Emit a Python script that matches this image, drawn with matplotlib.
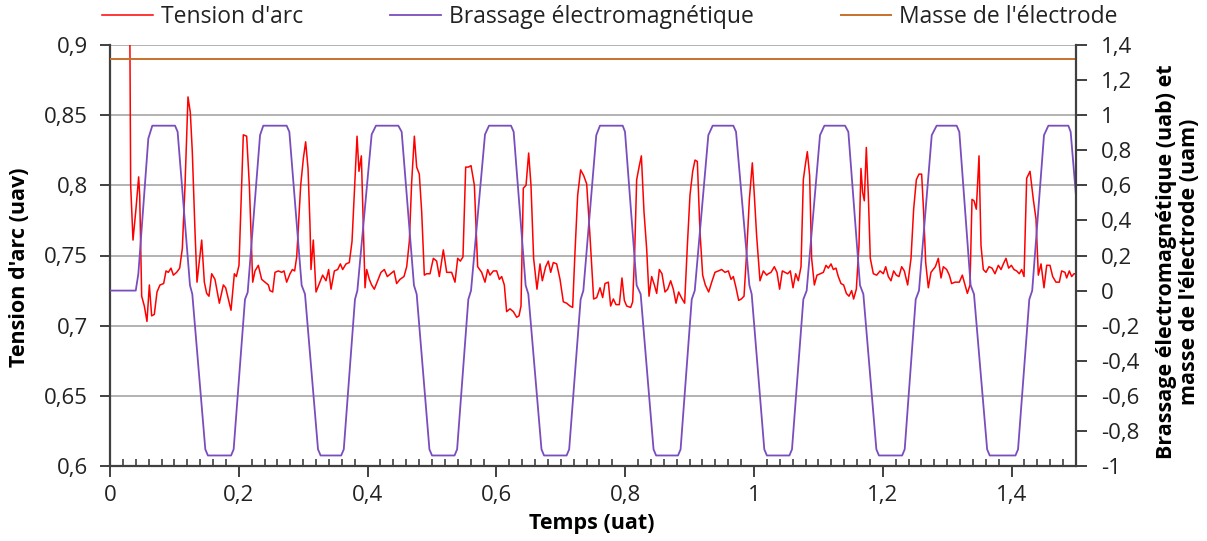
import matplotlib
matplotlib.use('Agg')
import matplotlib.pyplot as plt
from matplotlib.ticker import MultipleLocator, FuncFormatter

# Tension d'arc (axe gauche)
arc_t = [0.0300, 0.0321, 0.0357, 0.0399, 0.0445, 0.0461, 0.0492, 0.0533, 0.0574, 0.0611,
         0.0647, 0.0688, 0.0730, 0.0776, 0.0833, 0.0870, 0.0906, 0.0947, 0.0984, 0.1035,
         0.1082, 0.1123, 0.1165, 0.1211, 0.1247, 0.1278, 0.1320, 0.1351, 0.1424, 0.1465,
         0.1501, 0.1537, 0.1579, 0.1630, 0.1698, 0.1760, 0.1796, 0.1879, 0.1931, 0.1962,
         0.2003, 0.2070, 0.2122, 0.2164, 0.2216, 0.2252, 0.2303, 0.2355, 0.2459, 0.2484,
         0.2526, 0.2562, 0.2614, 0.2666, 0.2702, 0.2743, 0.2795, 0.2832, 0.2867, 0.2899,
         0.2961, 0.3002, 0.3038, 0.3075, 0.3106, 0.3121, 0.3157, 0.3199, 0.3251, 0.3302,
         0.3354, 0.3395, 0.3432, 0.3484, 0.3535, 0.3577, 0.3613, 0.3665, 0.3716, 0.3758,
         0.3799, 0.3836, 0.3866, 0.3903, 0.3934, 0.3960, 0.3986, 0.4027, 0.4063, 0.4104,
         0.4156, 0.4208, 0.4260, 0.4306, 0.4358, 0.4410, 0.4451, 0.4503, 0.4565, 0.4607,
         0.4648, 0.4684, 0.4726, 0.4762, 0.4803, 0.4840, 0.4881, 0.4917, 0.4969, 0.5021,
         0.5072, 0.5114, 0.5176, 0.5228, 0.5305, 0.5357, 0.5399, 0.5440, 0.5481, 0.5523,
         0.5564, 0.5606, 0.5658, 0.5709, 0.5771, 0.5823, 0.5865, 0.5901, 0.5953, 0.6004,
         0.6046, 0.6082, 0.6123, 0.6159, 0.6211, 0.6263, 0.6315, 0.6351, 0.6382, 0.6418,
         0.6460, 0.6501, 0.6537, 0.6578, 0.6630, 0.6677, 0.6713, 0.6765, 0.6806, 0.6843,
         0.6884, 0.6936, 0.6988, 0.7039, 0.7091, 0.7143, 0.7184, 0.7220, 0.7262, 0.7308,
         0.7355, 0.7402, 0.7453, 0.7510, 0.7557, 0.7609, 0.7650, 0.7686, 0.7738, 0.7774,
         0.7816, 0.7857, 0.7909, 0.7950, 0.7987, 0.8023, 0.8085, 0.8116, 0.8147, 0.8178,
         0.8215, 0.8251, 0.8292, 0.8333, 0.8370, 0.8411, 0.8453, 0.8489, 0.8530, 0.8571,
         0.8618, 0.8660, 0.8706, 0.8747, 0.8789, 0.8830, 0.8872, 0.8923, 0.8965, 0.9006,
         0.9048, 0.9084, 0.9120, 0.9161, 0.9203, 0.9244, 0.9296, 0.9343, 0.9394, 0.9446,
         0.9498, 0.9550, 0.9602, 0.9643, 0.9679, 0.9721, 0.9762, 0.9803, 0.9845, 0.9886,
         0.9928, 0.9974, 1.0005, 1.0041, 1.0093, 1.0145, 1.0197, 1.0222, 1.0264, 1.0316,
         1.0357, 1.0398, 1.0440, 1.0481, 1.0523, 1.0564, 1.0606, 1.0647, 1.0688, 1.0730,
         1.0766, 1.0792, 1.0828, 1.0864, 1.0895, 1.0937, 1.0978, 1.1030, 1.1077, 1.1118,
         1.1154, 1.1196, 1.1232, 1.1273, 1.1309, 1.1351, 1.1392, 1.1434, 1.1475, 1.1516,
         1.1547, 1.1589, 1.1630, 1.1661, 1.1687, 1.1713, 1.1744, 1.1775, 1.1806, 1.1853,
         1.1905, 1.1957, 1.2008, 1.2045, 1.2086, 1.2127, 1.2169, 1.2210, 1.2251, 1.2293,
         1.2334, 1.2386, 1.2438, 1.2479, 1.2521, 1.2562, 1.2603, 1.2634, 1.2666, 1.2707,
         1.2748, 1.2816, 1.2862, 1.2904, 1.2940, 1.2992, 1.3033, 1.3069, 1.3121, 1.3188,
         1.3235, 1.3271, 1.3313, 1.3354, 1.3385, 1.3416, 1.3452, 1.3494, 1.3525, 1.3561,
         1.3602, 1.3649, 1.3696, 1.3742, 1.3794, 1.3836, 1.3872, 1.3913, 1.3954, 1.3996,
         1.4037, 1.4079, 1.4120, 1.4156, 1.4193, 1.4234, 1.4286, 1.4337, 1.4379, 1.4415,
         1.4457, 1.4503, 1.4545, 1.4596, 1.4638, 1.4689, 1.4741, 1.4777, 1.4829, 1.4855,
         1.4896, 1.4933, 1.4969, 1.5010]
arc_v = [0.980, 0.800, 0.761, 0.781, 0.806, 0.793, 0.721, 0.714, 0.703, 0.729,
         0.707, 0.708, 0.724, 0.729, 0.730, 0.739, 0.738, 0.741, 0.736, 0.738,
         0.741, 0.755, 0.800, 0.863, 0.852, 0.824, 0.767, 0.731, 0.761, 0.731,
         0.723, 0.721, 0.737, 0.733, 0.716, 0.729, 0.727, 0.711, 0.737, 0.735,
         0.743, 0.836, 0.835, 0.800, 0.731, 0.739, 0.743, 0.733, 0.729, 0.725,
         0.724, 0.738, 0.739, 0.738, 0.739, 0.731, 0.737, 0.740, 0.739, 0.749,
         0.800, 0.819, 0.831, 0.812, 0.771, 0.740, 0.761, 0.724, 0.730, 0.736,
         0.732, 0.740, 0.726, 0.739, 0.740, 0.744, 0.740, 0.744, 0.745, 0.760,
         0.800, 0.835, 0.810, 0.821, 0.771, 0.727, 0.740, 0.733, 0.729, 0.726,
         0.732, 0.738, 0.740, 0.735, 0.737, 0.739, 0.730, 0.733, 0.735, 0.742,
         0.760, 0.802, 0.835, 0.813, 0.808, 0.781, 0.736, 0.737, 0.737, 0.748,
         0.746, 0.735, 0.754, 0.738, 0.738, 0.731, 0.748, 0.746, 0.749, 0.813,
         0.813, 0.814, 0.800, 0.742, 0.738, 0.731, 0.740, 0.736, 0.739, 0.739,
         0.733, 0.735, 0.729, 0.710, 0.712, 0.710, 0.706, 0.707, 0.714, 0.798,
         0.800, 0.823, 0.800, 0.748, 0.726, 0.744, 0.732, 0.742, 0.746, 0.738,
         0.745, 0.744, 0.733, 0.717, 0.716, 0.714, 0.713, 0.752, 0.793, 0.811,
         0.807, 0.801, 0.764, 0.719, 0.720, 0.727, 0.720, 0.730, 0.731, 0.714,
         0.719, 0.715, 0.715, 0.734, 0.718, 0.714, 0.713, 0.717, 0.752, 0.804,
         0.813, 0.821, 0.781, 0.755, 0.721, 0.735, 0.729, 0.723, 0.740, 0.737,
         0.724, 0.726, 0.732, 0.726, 0.716, 0.724, 0.720, 0.716, 0.757, 0.793,
         0.810, 0.818, 0.817, 0.767, 0.736, 0.729, 0.724, 0.731, 0.738, 0.739,
         0.740, 0.738, 0.739, 0.733, 0.735, 0.727, 0.718, 0.719, 0.721, 0.752,
         0.790, 0.816, 0.793, 0.764, 0.732, 0.739, 0.736, 0.737, 0.738, 0.742,
         0.738, 0.726, 0.739, 0.738, 0.737, 0.739, 0.727, 0.737, 0.732, 0.742,
         0.804, 0.813, 0.824, 0.807, 0.748, 0.729, 0.736, 0.737, 0.738, 0.743,
         0.741, 0.744, 0.740, 0.741, 0.735, 0.730, 0.729, 0.723, 0.721, 0.725,
         0.719, 0.726, 0.757, 0.812, 0.795, 0.789, 0.827, 0.793, 0.748, 0.737,
         0.736, 0.739, 0.737, 0.742, 0.735, 0.732, 0.739, 0.736, 0.735, 0.742,
         0.739, 0.729, 0.748, 0.783, 0.804, 0.808, 0.808, 0.781, 0.745, 0.727,
         0.738, 0.742, 0.748, 0.734, 0.742, 0.740, 0.736, 0.730, 0.731, 0.731,
         0.736, 0.730, 0.723, 0.729, 0.790, 0.789, 0.783, 0.821, 0.757, 0.740,
         0.738, 0.742, 0.741, 0.737, 0.743, 0.740, 0.744, 0.748, 0.741, 0.743,
         0.740, 0.739, 0.737, 0.740, 0.735, 0.805, 0.810, 0.790, 0.776, 0.736,
         0.744, 0.727, 0.743, 0.743, 0.735, 0.731, 0.731, 0.739, 0.738, 0.734,
         0.739, 0.735, 0.737, 0.737]

# Brassage électromagnétique (axe droit)
brassage_t = [0.0, 0.0400, 0.0440, 0.0595, 0.0657,
              0.1010, 0.1050, 0.1242, 0.1278, 0.1480, 0.1520,
              0.1880, 0.1920, 0.2096, 0.2138, 0.2330, 0.2380,
              0.2743, 0.2785, 0.2976, 0.3028, 0.3230, 0.3270,
              0.3590, 0.3630, 0.3804, 0.3841, 0.4063, 0.4130,
              0.4477, 0.4529, 0.4720, 0.4762, 0.4960, 0.5000,
              0.5350, 0.5390, 0.5564, 0.5606, 0.5823, 0.5885,
              0.6227, 0.6268, 0.6454, 0.6496, 0.6700, 0.6740,
              0.7090, 0.7130, 0.7308, 0.7350, 0.7551, 0.7608,
              0.7961, 0.7997, 0.8178, 0.8240, 0.8440, 0.8480,
              0.8820, 0.8860, 0.9033, 0.9080, 0.9291, 0.9358,
              0.9679, 0.9721, 0.9928, 0.9964, 1.0160, 1.0200,
              1.0550, 1.0590, 1.0766, 1.0818, 1.1025, 1.1093,
              1.1414, 1.1465, 1.1646, 1.1698, 1.1900, 1.1940,
              1.2300, 1.2340, 1.2511, 1.2562, 1.2760, 1.2836,
              1.3147, 1.3188, 1.3364, 1.3416, 1.3620, 1.3660,
              1.4060, 1.4100, 1.4275, 1.4320, 1.4503, 1.4571,
              1.4881, 1.4917, 1.5116]
brassage_v = [0.0, 0.0, 0.095, 0.867, 0.94,
              0.94, 0.905, 0.03, -0.02, -0.905, -0.94,
              -0.94, -0.905, -0.05, -0.01, 0.886, 0.94,
              0.94, 0.905, 0.03, -0.02, -0.905, -0.94,
              -0.94, -0.905, -0.05, 0.0, 0.89, 0.94,
              0.94, 0.905, 0.03, -0.02, -0.905, -0.94,
              -0.94, -0.905, -0.05, 0.0, 0.89, 0.94,
              0.94, 0.905, 0.03, -0.02, -0.905, -0.94,
              -0.94, -0.905, -0.05, 0.0, 0.886, 0.94,
              0.94, 0.905, 0.03, -0.02, -0.905, -0.94,
              -0.94, -0.905, -0.05, 0.0, 0.886, 0.94,
              0.94, 0.905, 0.03, -0.02, -0.905, -0.94,
              -0.94, -0.905, -0.05, 0.0, 0.886, 0.94,
              0.94, 0.905, 0.03, -0.02, -0.905, -0.94,
              -0.94, -0.905, -0.05, 0.0, 0.886, 0.94,
              0.94, 0.905, 0.03, -0.02, -0.905, -0.94,
              -0.94, -0.905, -0.05, 0.0, 0.886, 0.94,
              0.94, 0.905, 0.03]

# Masse de l'électrode (axe droit)
masse_t = [0.0, 1.5]
masse_v = [1.32, 1.32]

plt.rcParams['font.family'] = ['Open Sans', 'DejaVu Sans']

W, H = 1207, 541
fig = plt.figure(figsize=(W / 100, H / 100), dpi=100)
ax = fig.add_axes([110 / W, 1 - 466 / H, (1076 - 110) / W, (466 - 45) / H])
ax2 = ax.twinx()

l1, = ax.plot(arc_t, arc_v, color='#FF0000', lw=1.1, label="Tension d'arc")
l2, = ax2.plot(brassage_t, brassage_v, color='#7A4DBE', lw=1.3, label='Brassage électromagnétique')
l3, = ax2.plot(masse_t, masse_v, color='#C8702C', lw=1.4, label="Masse de l'électrode")

ax.set_xlim(0, 1.5)
ax.set_ylim(0.6, 0.9)
ax2.set_ylim(-1, 1.4)


def virgule(v, pos):
    s = f'{round(v, 2):g}'.replace('.', ',')
    return '0' if s == '-0' else s


ax.xaxis.set_major_locator(MultipleLocator(0.2))
ax.xaxis.set_minor_locator(MultipleLocator(0.02))
ax.yaxis.set_major_locator(MultipleLocator(0.05))
ax2.yaxis.set_major_locator(MultipleLocator(0.2))
for a in (ax.xaxis, ax.yaxis, ax2.yaxis):
    a.set_major_formatter(FuncFormatter(virgule))

ax.grid(axis='y', color='#A6A6A6', lw=1.2)
ax.set_axisbelow(True)

axe_col = '#404040'
for a in (ax, ax2):
    a.spines['top'].set_visible(False)
ax.spines['right'].set_visible(False)
ax2.spines['left'].set_visible(False)
ax2.spines['bottom'].set_visible(False)
ax.spines['left'].set_color(axe_col)
ax.spines['bottom'].set_color(axe_col)
ax2.spines['right'].set_color(axe_col)
for sp in (ax.spines['left'], ax.spines['bottom'], ax2.spines['right']):
    sp.set_linewidth(1.6)

fs = 16
ax.tick_params(axis='y', direction='out', length=7, width=1.4, color=axe_col,
               labelsize=fs, pad=9, labelcolor='#222222')
ax.tick_params(axis='x', which='major', direction='out', length=8, width=1.4,
               color=axe_col, labelsize=fs, pad=6, labelcolor='#222222')
ax.tick_params(axis='x', which='minor', direction='in', length=5, width=1.2, color=axe_col)
ax2.tick_params(axis='y', direction='out', length=8, width=1.4, color=axe_col,
                labelsize=fs, pad=10, labelcolor='#222222')

# titres des axes
fig.text(20 / W, 1 - 267 / H, "Tension d'arc (uav)", rotation=90, ha='center', va='center',
         fontsize=15.5, fontweight='bold')
fig.text(592 / W, 1 - 523 / H, 'Temps (uat)', ha='center', va='center',
         fontsize=15.5, fontweight='bold')
fig.text(1178 / W, 1 - 262 / H, "Brassage électromagnétique (uab) et\nmasse de l'électrode (uam)",
         rotation=90, ha='center', va='center', multialignment='center',
         fontsize=15.5, fontweight='bold', linespacing=1.1)

fig.legend(handles=[l1, l2, l3], loc='center', bbox_to_anchor=(610 / W, 1 - 17 / H),
           ncol=3, frameon=False, fontsize=16.5, handlelength=2.2, handletextpad=0.35,
           columnspacing=3.8, labelcolor='#222222')

fig.savefig('out.png', dpi=100)
